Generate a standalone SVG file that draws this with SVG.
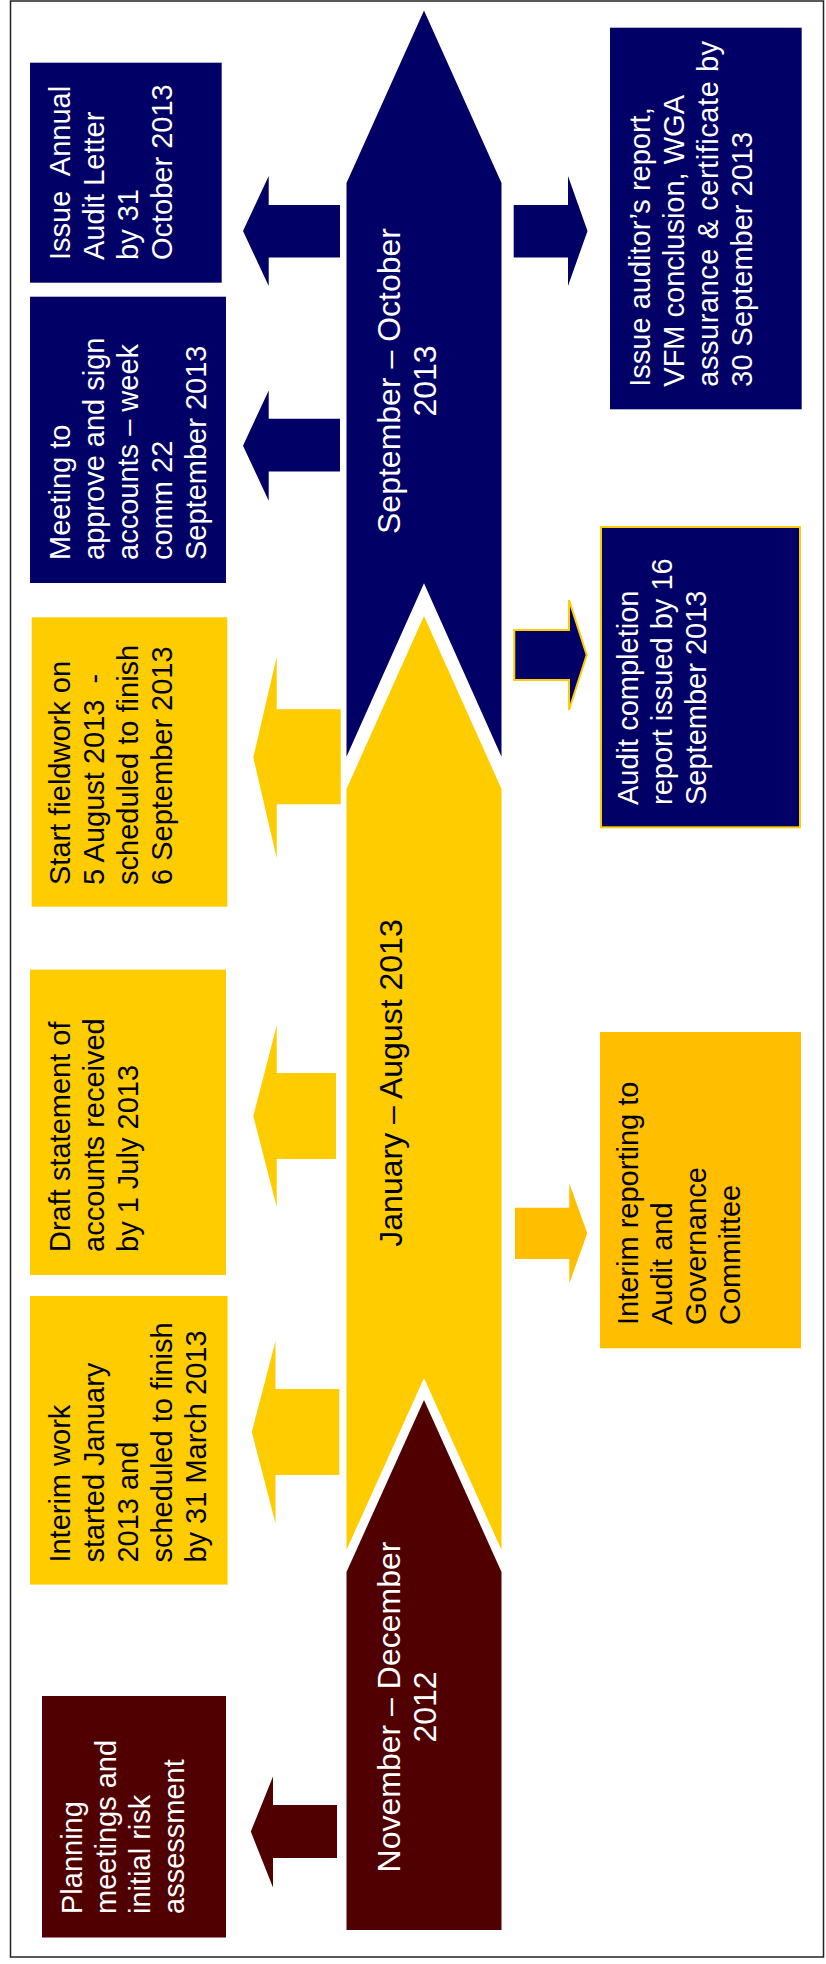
<svg xmlns="http://www.w3.org/2000/svg" width="826" height="1964" viewBox="0 0 826 1964">
<style>
.t{font-family:"Liberation Sans",Arial,sans-serif;font-size:29px;white-space:pre}
.lbl{font-family:"Liberation Sans",Arial,sans-serif;font-size:32px;text-anchor:middle}
.w{fill:#ffffff}
.k{fill:#000000}
.navy{fill:#000066}
.yel{fill:#FFCC00}
.org{fill:#FFBF00}
.mar{fill:#500000}
</style>
<rect x="10.5" y="1" width="813" height="1956" fill="#ffffff" stroke="#222222" stroke-width="1.5"/>

<g id="connectors">
  <polygon class="navy" points="424,10.5 501.5,183 501.5,756.7 424,583.3 346.5,756.7 346.5,183"/>
  <polygon class="yel" points="424,616 501.5,789 501.5,1550 424,1378 346.5,1550 346.5,789"/>
  <polygon class="mar" points="424,1400 501.5,1572 501.5,1930 346.5,1930 346.5,1572"/>
  <polygon class="navy" points="243,231 268.7,176 268.7,205 340,205 340,257.6 268.7,257.6 268.7,286"/>
  <polygon class="navy" points="243,445.7 268.7,390.6 268.7,418.8 340,418.8 340,471.4 268.7,471.4 268.7,500.8"/>
  <polygon class="yel" points="253.3,757.5 276.7,656.7 276.7,709.3 340.7,709.3 340.7,804.3 276.7,804.3 276.7,858.3"/>
  <polygon class="yel" points="253.3,1116 276.7,1025.6 276.7,1073 336,1073 336,1159 276.7,1159 276.7,1207"/>
  <polygon class="yel" points="251.8,1432 275.5,1341 275.5,1389 339.3,1389 339.3,1475 275.5,1475 275.5,1523.6"/>
  <polygon class="mar" points="250.8,1831.6 273,1776.5 273,1805 337,1805 337,1858 273,1858 273,1887.5"/>
  <polygon class="navy" points="513.7,205 568,205 568,176 587.5,231 568,286 568,257.6 513.7,257.6"/>
  <polygon class="navy" points="514.3,630 569,630 569,600 586.7,655 569,710 569,680 514.3,680" stroke="#FFCC00" stroke-width="2"/>
  <polygon class="org" points="515,1207.7 569.3,1207.7 569.3,1183.3 587.3,1233.3 569.3,1283.3 569.3,1259 515,1259"/>
</g>

<g id="phase-sep-oct">
  <text class="lbl w" transform="translate(400.4,381) rotate(-90)"><tspan x="0" y="0">September – October</tspan><tspan x="0" dy="35.6">2013</tspan></text>
</g>
<g id="phase-jan-aug">
  <text class="lbl k" transform="translate(401.5,1083) rotate(-90)">January – August 2013</text>
</g>
<g id="phase-nov-dec">
  <text class="lbl w" transform="translate(400.4,1707) rotate(-90)"><tspan x="0" y="0">November – December</tspan><tspan x="0" dy="35.6">2012</tspan></text>
</g>

<g id="issue-annual-letter">
  <rect class="navy" x="30" y="62.7" width="191.7" height="220"/>
  <text class="t w" transform="translate(70,260) rotate(-90)"><tspan x="0" y="0">Issue  Annual</tspan><tspan x="0" dy="34">Audit Letter</tspan><tspan x="0" dy="34">by 31</tspan><tspan x="0" dy="34">October 2013</tspan></text>
</g>

<g id="meeting-approve">
  <rect class="navy" x="30" y="296.7" width="196" height="286.3"/>
  <text class="t w" transform="translate(70,560) rotate(-90)"><tspan x="0" y="0">Meeting to</tspan><tspan x="0" dy="34">approve and sign</tspan><tspan x="0" dy="34">accounts – week</tspan><tspan x="0" dy="34">comm 22</tspan><tspan x="0" dy="34">September 2013</tspan></text>
</g>

<g id="start-fieldwork">
  <rect class="yel" x="31.7" y="617.3" width="195.6" height="289.4"/>
  <text class="t k" transform="translate(70,885) rotate(-90)"><tspan x="0" y="0">Start fieldwork on</tspan><tspan x="0" dy="34">5 August 2013  -</tspan><tspan x="0" dy="34">scheduled to finish</tspan><tspan x="0" dy="34">6 September 2013</tspan></text>
</g>

<g id="draft-statement">
  <rect class="yel" x="30" y="969.6" width="196" height="305.4"/>
  <text class="t k" transform="translate(70,1252) rotate(-90)"><tspan x="0" y="0">Draft statement of</tspan><tspan x="0" dy="34">accounts received</tspan><tspan x="0" dy="34">by 1 July 2013</tspan></text>
</g>

<g id="interim-work">
  <rect class="yel" x="30" y="1296" width="197.6" height="288.6"/>
  <text class="t k" transform="translate(70,1562.6) rotate(-90)"><tspan x="0" y="0">Interim work</tspan><tspan x="0" dy="34">started January</tspan><tspan x="0" dy="34">2013 and</tspan><tspan x="0" dy="34">scheduled to finish</tspan><tspan x="0" dy="34">by 31 March 2013</tspan></text>
</g>

<g id="planning">
  <rect class="mar" x="42" y="1696" width="184" height="241.5"/>
  <text class="t w" transform="translate(82,1914) rotate(-90)"><tspan x="0" y="0">Planning</tspan><tspan x="0" dy="34">meetings and</tspan><tspan x="0" dy="34">initial risk</tspan><tspan x="0" dy="34">assessment</tspan></text>
</g>

<g id="issue-auditors-report">
  <rect class="navy" x="610" y="27.7" width="191.7" height="381.6"/>
  <text class="t w" transform="translate(650,386.7) rotate(-90)"><tspan x="0" y="0">Issue auditor’s report,</tspan><tspan x="0" dy="34">VFM conclusion, WGA</tspan><tspan x="0" dy="34" letter-spacing="0.55">assurance &amp; certificate by</tspan><tspan x="0" dy="34">30 September 2013</tspan></text>
</g>

<g id="audit-completion">
  <rect class="navy" x="601" y="527" width="199" height="300.3" stroke="#FFCC00" stroke-width="2"/>
  <text class="t w" transform="translate(638.3,805) rotate(-90)"><tspan x="0" y="0">Audit completion</tspan><tspan x="0" dy="34">report issued by 16</tspan><tspan x="0" dy="34">September 2013</tspan></text>
</g>

<g id="interim-reporting">
  <rect class="org" x="600" y="1032" width="201" height="316.3"/>
  <text class="t k" transform="translate(638,1325) rotate(-90)"><tspan x="0" y="0">Interim reporting to</tspan><tspan x="0" dy="34">Audit and</tspan><tspan x="0" dy="34">Governance</tspan><tspan x="0" dy="34">Committee</tspan></text>
</g>
</svg>
